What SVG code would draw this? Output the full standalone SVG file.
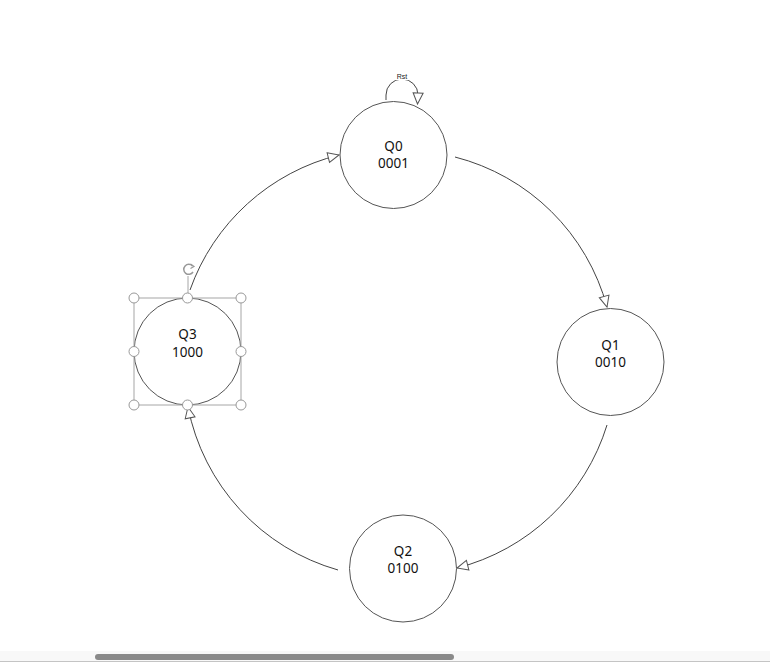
<svg xmlns="http://www.w3.org/2000/svg" width="770" height="667" viewBox="0 0 770 667">
<style>
.node{fill:#fff;stroke:#555;stroke-width:1}
.lbl{font-family:"Noto Sans","Open Sans",sans-serif;font-size:13.5px;fill:#111;text-anchor:middle}
.edge{fill:none;stroke:#444;stroke-width:1}
.sel{fill:none;stroke:#a6a6a6;stroke-width:1}
.hdl{fill:#fff;stroke:#999;stroke-width:1}
</style>
<defs>
<marker id="arr" markerUnits="userSpaceOnUse" markerWidth="14" markerHeight="12" refX="11" refY="5" orient="auto" viewBox="-1 -1 14 12">
<path d="M0,0 L11,5 L0,10 Z" fill="#fff" stroke="#555" stroke-width="1"/>
</marker>
</defs>
<rect width="770" height="667" fill="#fff"/>
<g id="connectors">
<path class="edge" d="M455,157 A212,212 0 0 1 607,307" marker-end="url(#arr)"/>
<path class="edge" d="M607,425 A212,212 0 0 1 457,568" marker-end="url(#arr)"/>
<path class="edge" d="M338,570 A212,212 0 0 1 188,407" marker-end="url(#arr)"/>
<path class="edge" d="M190,290 A212,212 0 0 1 339,155" marker-end="url(#arr)"/>
<path class="edge" d="M386,100 L386,95 A16,16 0 0 1 418,95 L417.5,104" marker-end="url(#arr)"/>
<rect x="395" y="73" width="14" height="7" fill="#fff"/>
<text x="402" y="79" font-family="Liberation Sans, sans-serif" font-size="7" text-anchor="middle" fill="#222">Rst</text>
</g>
<g id="Q0">
<circle class="node" cx="393.5" cy="155" r="53.5"/>
<text class="lbl" x="393.5" y="151">Q0</text>
<text class="lbl" x="393.5" y="168">0001</text>
</g>
<g id="Q1">
<circle class="node" cx="610.5" cy="362" r="53.5"/>
<text class="lbl" x="610.5" y="350">Q1</text>
<text class="lbl" x="610.5" y="367">0010</text>
</g>
<g id="Q2">
<circle class="node" cx="403" cy="568.5" r="53.5"/>
<text class="lbl" x="403" y="556">Q2</text>
<text class="lbl" x="403" y="573">0100</text>
</g>
<g id="Q3">
<circle class="node" cx="187.5" cy="351.5" r="53.5"/>
<text class="lbl" x="187.5" y="339">Q3</text>
<text class="lbl" x="187.5" y="357">1000</text>
</g>
<g id="selection">
<rect class="sel" x="134" y="298" width="107" height="107"/>
<line class="sel" x1="188" y1="276" x2="188" y2="298"/>
<path d="M192.5,266 A5,5 0 1 0 193,272" fill="none" stroke="#999" stroke-width="1.5"/>
<path d="M190.5,264 L194,266.5 L190.5,268.5" fill="none" stroke="#999" stroke-width="1.2"/>
<circle class="hdl" cx="134" cy="298" r="5"/>
<circle class="hdl" cx="187.5" cy="298" r="5"/>
<circle class="hdl" cx="241" cy="298" r="5"/>
<circle class="hdl" cx="134" cy="351.5" r="5"/>
<circle class="hdl" cx="241" cy="351.5" r="5"/>
<circle class="hdl" cx="134" cy="405" r="5"/>
<circle class="hdl" cx="187.5" cy="405" r="5"/>
<circle class="hdl" cx="241" cy="405" r="5"/>
</g>
<g id="scrollbar">
<rect x="0" y="651" width="770" height="10" fill="#f8f8f8"/>
<line x1="0" y1="661.5" x2="770" y2="661.5" stroke="#c4c4c4" stroke-width="1"/>
<rect x="95" y="654" width="359" height="6" rx="3" fill="#8a8a8a"/>
</g>
</svg>
